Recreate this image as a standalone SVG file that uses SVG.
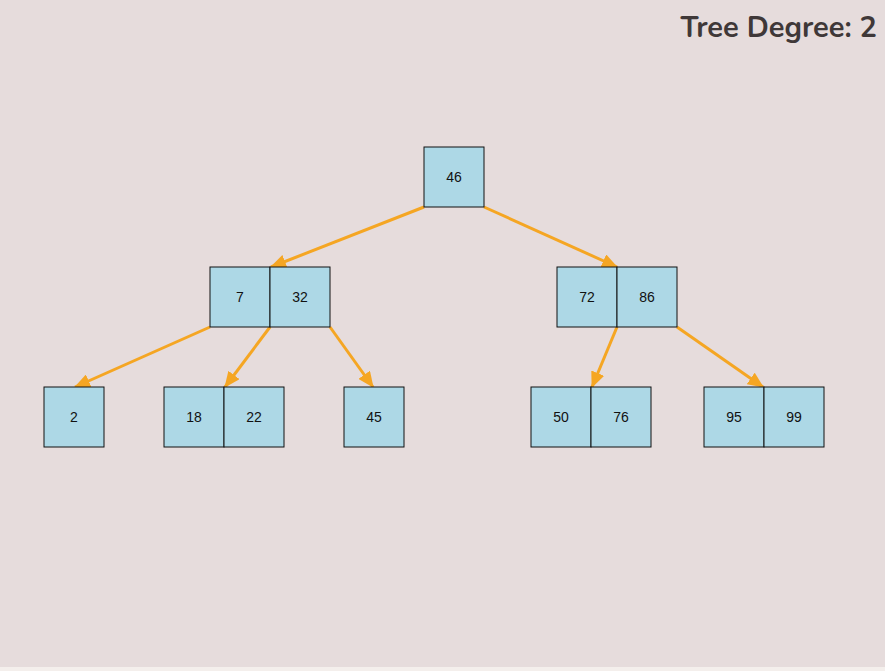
<svg xmlns="http://www.w3.org/2000/svg" width="885" height="671" viewBox="0 0 885 671">
<defs>
<style>
.cell{fill:#add8e6;stroke:#111;stroke-width:1}
.lbl{font-family:"Liberation Sans",Arial,sans-serif;font-size:14px;fill:#111;text-anchor:middle;dominant-baseline:central}
.edge{stroke:#f5a623;stroke-width:3;fill:none;marker-end:url(#ah)}
.title{font-family:"Nunito","Lato","Open Sans",sans-serif;font-weight:bold;font-size:29px;fill:#3f3838;text-anchor:end}
</style>
<marker id="ah" markerUnits="userSpaceOnUse" markerWidth="16" markerHeight="14" viewBox="0 0 16 14" refX="15" refY="7" orient="auto">
<path d="M0,0 L16,7 L0,14 z" fill="#f5a623"/>
</marker>
</defs>
<rect x="0" y="0" width="885" height="667" fill="#e6dcdc"/>
<rect x="0" y="667" width="885" height="4" fill="#f4efec"/>
<text class="title" x="877" y="37">Tree Degree: 2</text>
<g id="connectors">
<line class="edge" x1="424" y1="207" x2="271" y2="267"/>
<line class="edge" x1="484" y1="207" x2="617" y2="267"/>
<line class="edge" x1="210" y1="327" x2="75" y2="387"/>
<line class="edge" x1="270" y1="327" x2="225" y2="387"/>
<line class="edge" x1="330" y1="327" x2="373" y2="387"/>
<line class="edge" x1="617" y1="327" x2="592" y2="387"/>
<line class="edge" x1="677" y1="327" x2="763" y2="387"/>
</g>
<g id="n46">
<rect class="cell" x="424" y="147" width="60" height="60"/>
<text class="lbl" x="454" y="177">46</text>
</g>
<g id="n7_32">
<rect class="cell" x="210" y="267" width="60" height="60"/>
<rect class="cell" x="270" y="267" width="60" height="60"/>
<text class="lbl" x="240" y="297">7</text>
<text class="lbl" x="300" y="297">32</text>
</g>
<g id="n72_86">
<rect class="cell" x="557" y="267" width="60" height="60"/>
<rect class="cell" x="617" y="267" width="60" height="60"/>
<text class="lbl" x="587" y="297">72</text>
<text class="lbl" x="647" y="297">86</text>
</g>
<g id="n2">
<rect class="cell" x="44" y="387" width="60" height="60"/>
<text class="lbl" x="74" y="417">2</text>
</g>
<g id="n18_22">
<rect class="cell" x="164" y="387" width="60" height="60"/>
<rect class="cell" x="224" y="387" width="60" height="60"/>
<text class="lbl" x="194" y="417">18</text>
<text class="lbl" x="254" y="417">22</text>
</g>
<g id="n45">
<rect class="cell" x="344" y="387" width="60" height="60"/>
<text class="lbl" x="374" y="417">45</text>
</g>
<g id="n50_76">
<rect class="cell" x="531" y="387" width="60" height="60"/>
<rect class="cell" x="591" y="387" width="60" height="60"/>
<text class="lbl" x="561" y="417">50</text>
<text class="lbl" x="621" y="417">76</text>
</g>
<g id="n95_99">
<rect class="cell" x="704" y="387" width="60" height="60"/>
<rect class="cell" x="764" y="387" width="60" height="60"/>
<text class="lbl" x="734" y="417">95</text>
<text class="lbl" x="794" y="417">99</text>
</g>
</svg>
